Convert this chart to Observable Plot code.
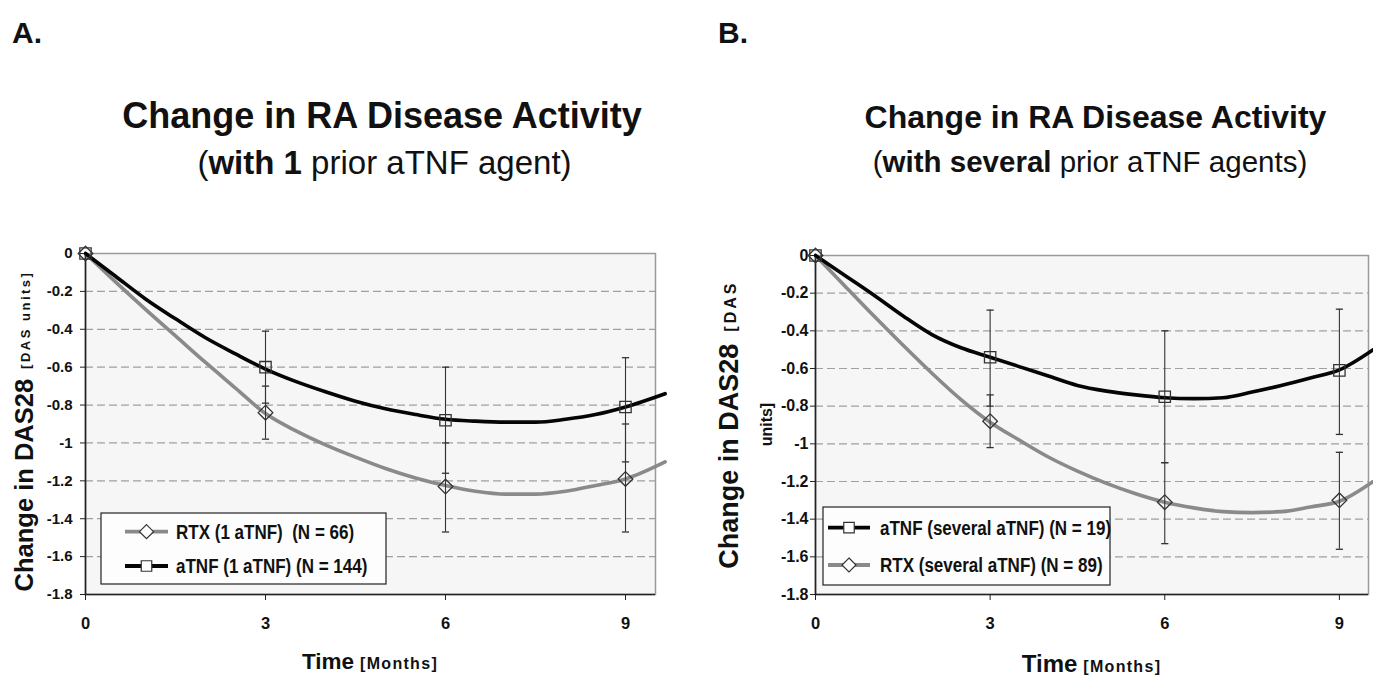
<!DOCTYPE html>
<html><head><meta charset="utf-8">
<script src="https://cdn.jsdelivr.net/npm/d3@7"></script>
<script src="https://cdn.jsdelivr.net/npm/@observablehq/plot@0.6"></script>
<style>
body{margin:0;background:#fff;overflow:hidden;}
#wrap{position:relative;width:1373px;height:678px;overflow:hidden;font-family:"Liberation Sans",Arial,sans-serif;color:#111;}
.abs{position:absolute;white-space:pre;line-height:1;}
.ctr{text-align:center;width:700px;}
.panel{position:absolute;top:230px;}
.panel svg{overflow:visible;}
</style></head><body><div id="wrap">
<div class="abs" style="left:12px;top:18px;font-size:30px;font-weight:bold">A.</div>
<div class="abs" style="left:718px;top:18px;font-size:30px;font-weight:bold">B.</div>
<div class="abs ctr" style="left:32px;top:97.5px;font-size:36px;font-weight:bold">Change in RA Disease Activity</div>
<div class="abs ctr" style="left:34.5px;top:146px;font-size:33px">(<b>with 1</b> prior aTNF agent)</div>
<div class="abs ctr" style="left:745.5px;top:101px;font-size:32px;font-weight:bold">Change in RA Disease Activity</div>
<div class="abs ctr" style="left:740px;top:147px;font-size:29.5px">(<b>with several</b> prior aTNF agents)</div>
<div class="panel" id="pA" style="left:0px"></div>
<div class="panel" id="pB" style="left:686px"></div>
</div>
<script>
// ---- shared axis data ----
const months = [0, 3, 6, 9];
const xTicks = [0, 3, 6, 9];
const yTickValues = [0, -0.2, -0.4, -0.6, -0.8, -1, -1.2, -1.4, -1.6, -1.8];
const yTickLabels = ["0", "-0.2", "-0.4", "-0.6", "-0.8", "-1", "-1.2", "-1.4", "-1.6", "-1.8"];
const gridValues = [-0.2, -0.4, -0.6, -0.8, -1, -1.2, -1.4, -1.6];

// ---- Panel A: 1 prior aTNF agent ----
const rtxA = [0, -0.84, -1.23, -1.19];
const rtxA_hi = [0, -0.70, -1.00, -0.90];
const rtxA_lo = [0, -0.98, -1.47, -1.47];
const atnfA = [0, -0.60, -0.88, -0.81];
const atnfA_hi = [0, -0.41, -0.60, -0.55];
const atnfA_lo = [0, -0.79, -1.16, -1.10];
const trendMonthsA = [0, 0.5, 1, 1.5, 2, 2.5, 3, 3.5, 4, 4.5, 5, 5.5, 6, 6.5, 7, 7.5, 8, 8.5, 9, 9.66];
const rtxTrendA = [0, -0.15, -0.295, -0.435, -0.575, -0.71, -0.845, -0.935, -1.01, -1.075, -1.135, -1.185, -1.225, -1.255, -1.27, -1.27, -1.255, -1.225, -1.19, -1.10];
const atnfTrendA = [0, -0.12, -0.24, -0.345, -0.445, -0.53, -0.61, -0.675, -0.73, -0.78, -0.82, -0.85, -0.875, -0.885, -0.89, -0.89, -0.875, -0.85, -0.81, -0.74];
const legendLabelsA = ["RTX (1 aTNF)  (N = 66)", "aTNF (1 aTNF) (N = 144)"];

// ---- Panel B: several prior aTNF agents ----
const atnfB = [0, -0.54, -0.75, -0.61];
const atnfB_hi = [0, -0.29, -0.40, -0.285];
const atnfB_lo = [0, -0.80, -1.10, -0.95];
const rtxB = [0, -0.88, -1.31, -1.30];
const rtxB_hi = [0, -0.74, -1.10, -1.045];
const rtxB_lo = [0, -1.02, -1.53, -1.56];
const trendMonthsB = [0, 0.5, 1, 1.5, 2, 2.5, 3, 3.5, 4, 4.5, 5, 5.5, 6, 6.5, 7, 7.5, 8, 8.5, 9, 9.58];
const rtxTrendB = [0, -0.16, -0.32, -0.475, -0.625, -0.765, -0.885, -0.98, -1.07, -1.145, -1.21, -1.265, -1.31, -1.34, -1.36, -1.365, -1.36, -1.335, -1.305, -1.20];
const atnfTrendB = [0, -0.105, -0.21, -0.32, -0.42, -0.49, -0.54, -0.59, -0.64, -0.69, -0.72, -0.74, -0.755, -0.76, -0.755, -0.725, -0.69, -0.65, -0.607, -0.50];
const legendLabelsB = ["aTNF (several aTNF) (N = 19)", "RTX (several aTNF) (N = 89)"];

const GRAY = "#8a8a8a", BLACK = "#050505", EDGE = "#333";
const capSymbol = {draw(ctx) { ctx.moveTo(-3.6, 0); ctx.lineTo(3.6, 0); }};
const tickLabel = d => { const i = yTickValues.findIndex(v => Math.abs(v - d) < 1e-9); return i >= 0 ? yTickLabels[i] : ""; };

function buildPanel(o) {
  const pts = (ys, lo, hi) => months.map((m, i) => ({month: m, value: ys[i], lo: lo[i], hi: hi[i]}));
  const rtx = pts(o.rtx, o.rtxLo, o.rtxHi);
  const atnf = pts(o.atnf, o.atnfLo, o.atnfHi);
  const bars = [...rtx, ...atnf].filter(d => d.lo !== d.hi);
  const caps = bars.flatMap(d => [{month: d.month, v: d.lo}, {month: d.month, v: d.hi}]);
  const rtxTrend = o.trendMonths.map((m, i) => ({month: m, value: o.rtxTrend[i]}));
  const atnfTrend = o.trendMonths.map((m, i) => ({month: m, value: o.atnfTrend[i]}));

  const svg = Plot.plot({
    width: o.width, height: 448,
    marginLeft: o.ml, marginRight: o.mr, marginTop: o.mt, marginBottom: 84,
    style: {fontFamily: "'Liberation Sans', Arial, sans-serif", fontWeight: "bold", fontSize: "15px", color: "#111", background: "transparent", overflow: "visible"},
    x: {domain: [0, 9.5]},
    y: {domain: [-1.8, 0]},
    marks: [
      Plot.frame({fill: "#f6f6f6", stroke: "#9a9a9a", strokeWidth: 1.5}),
      Plot.ruleY(gridValues, {stroke: "#a0a0a0", strokeDasharray: "8,4", strokeWidth: 1.2}),
      Plot.ruleX([0], {stroke: "#222", strokeWidth: 1.6}),
      Plot.ruleY([-1.8], {stroke: "#222", strokeWidth: 1.6}),
      Plot.axisY({ticks: yTickValues, tickFormat: tickLabel, tickSize: 5, tickPadding: o.yPad, label: null, fontSize: o.yFont, stroke: "#222"}),
      Plot.axisX({ticks: xTicks, tickFormat: d => String(d), tickSize: 6, tickPadding: 17, label: null, fontSize: 16.5, stroke: "#222"}),
      Plot.line(rtxTrend, {x: "month", y: "value", stroke: GRAY, strokeWidth: 3.6, curve: "monotone-x"}),
      Plot.line(atnfTrend, {x: "month", y: "value", stroke: BLACK, strokeWidth: 3.6, curve: "monotone-x"}),
      Plot.dot(rtx, {x: "month", y: "value", symbol: "diamond2", r: 6.6, stroke: EDGE, strokeWidth: 1.3, fill: "none"}),
      Plot.dot(atnf, {x: "month", y: "value", symbol: "square", r: 6.4, stroke: EDGE, strokeWidth: 1.3, fill: "none"}),
      Plot.ruleX(bars, {x: "month", y1: "lo", y2: "hi", stroke: EDGE, strokeWidth: 1.1}),
      Plot.dot(caps, {x: "month", y: "v", symbol: capSymbol, stroke: EDGE, strokeWidth: 1.3})
    ]
  });

  const s = d3.select(svg);
  // legend
  const lg = s.append("g");
  lg.append("rect").attr("x", o.lg.x).attr("y", o.lg.y).attr("width", o.lg.w).attr("height", o.lg.h)
    .attr("fill", "#fdfdfd").attr("stroke", "#222").attr("stroke-width", 1.2);
  o.lg.items.forEach((it, i) => {
    const y = o.lg.rows[i];
    lg.append("line").attr("x1", o.lg.sx1).attr("x2", o.lg.sx2).attr("y1", y).attr("y2", y)
      .attr("stroke", it.color).attr("stroke-width", 3.8);
    const sym = it.symbol === "diamond" ? d3.symbolDiamond2 : d3.symbolSquare;
    const size = it.symbol === "diamond" ? 125 : 110;
    lg.append("path").attr("d", d3.symbol(sym, size)()).attr("transform", `translate(${(o.lg.sx1 + o.lg.sx2) / 2},${y})`)
      .attr("fill", "#fff").attr("stroke", EDGE).attr("stroke-width", 1.2);
    lg.append("text").attr("transform", `translate(${o.lg.tx},${y}) scale(0.83,1)`).attr("dy", "0.36em")
      .attr("text-anchor", "start")
      .style("font-family", "'Liberation Sans', Arial, sans-serif")
      .style("font-size", o.lg.font + "px").style("font-weight", "bold").style("white-space", "pre")
      .attr("fill", "#111").text(it.label);
  });
  // y axis title
  o.yTitle(s);
  // x axis title
  const xt = s.append("text").attr("text-anchor", "middle").attr("x", o.xt.x).attr("y", o.xt.y).attr("fill", "#111")
    .style("font-weight", "bold");
  xt.append("tspan").style("font-size", o.xt.big + "px").text("Time");
  xt.append("tspan").style("font-size", "16px").style("letter-spacing", "1.3px").attr("dx", 6).text("[Months]");
  return svg;
}

const svgA = buildPanel({
  width: 686, ml: 85, mr: 31, mt: 23, yPad: 8, yFont: 15,
  rtx: rtxA, rtxLo: rtxA_lo, rtxHi: rtxA_hi, atnf: atnfA, atnfLo: atnfA_lo, atnfHi: atnfA_hi,
  trendMonths: trendMonthsA, rtxTrend: rtxTrendA, atnfTrend: atnfTrendA,
  lg: {x: 101, y: 283, w: 285, h: 71, rows: [301.7, 336], sx1: 125, sx2: 168, tx: 176, font: 20.5,
       items: [{label: legendLabelsA[0], color: GRAY, symbol: "diamond"}, {label: legendLabelsA[1], color: BLACK, symbol: "square"}]},
  xt: {x: 370, y: 439, big: 22.5},
  yTitle: s => {
    const t = s.append("text").attr("text-anchor", "middle").attr("transform", "translate(33,201) rotate(-90)")
      .attr("fill", "#111").style("font-weight", "bold").style("white-space", "pre");
    t.append("tspan").style("font-size", "25.5px").text("Change in DAS28");
    t.append("tspan").style("font-size", "13px").style("letter-spacing", "2.5px").attr("dx", 10).attr("dy", -3).text("[DAS units]");
  }
});
document.getElementById("pA").appendChild(svgA);

const svgB = buildPanel({
  width: 687, ml: 129, mr: 5, mt: 25, yPad: 2, yFont: 16,
  rtx: rtxB, rtxLo: rtxB_lo, rtxHi: rtxB_hi, atnf: atnfB, atnfLo: atnfB_lo, atnfHi: atnfB_hi,
  trendMonths: trendMonthsB, rtxTrend: rtxTrendB, atnfTrend: atnfTrendB,
  lg: {x: 137, y: 277, w: 287, h: 78, rows: [297.7, 335], sx1: 142, sx2: 184, tx: 194, font: 20.5,
       items: [{label: legendLabelsB[0], color: BLACK, symbol: "square"}, {label: legendLabelsB[1], color: GRAY, symbol: "diamond"}]},
  xt: {x: 405.5, y: 442, big: 24},
  yTitle: s => {
    const t = s.append("text").attr("text-anchor", "middle").attr("transform", "translate(52,194.6) rotate(-90)")
      .attr("fill", "#111").style("font-weight", "bold").style("white-space", "pre");
    t.append("tspan").style("font-size", "27px").text("Change in DAS28");
    t.append("tspan").style("font-size", "16px").style("letter-spacing", "3px").attr("dx", 12).attr("dy", -2).text("[DAS");
    s.append("text").attr("text-anchor", "middle").attr("transform", "translate(86,194.6) rotate(-90)")
      .attr("fill", "#111").style("font-weight", "bold").style("font-size", "16px").text("units]");
  }
});
document.getElementById("pB").appendChild(svgB);
</script>
</body></html>
